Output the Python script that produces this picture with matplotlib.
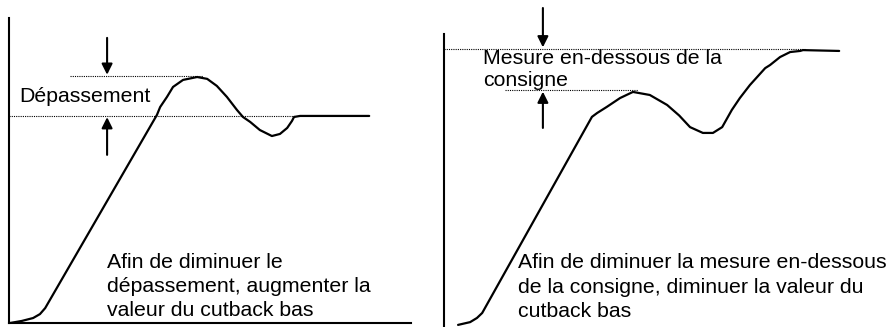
import matplotlib
matplotlib.use("Agg")
import matplotlib.pyplot as plt

plt.rcParams['font.family'] = ['Liberation Sans', 'DejaVu Sans']

# left panel: overshoot (time, measured value, setpoint = 100)
t_left = [0.25, 3.2, 6.0, 7.7, 9.0, 36.8, 37.6, 39.3, 40.8, 43.3, 46.8, 49.3, 51.7, 54.2,
          56.7, 58.2, 60.0, 62.4, 65.4, 67.4, 69.2, 70.4, 70.9, 72.4, 89.6]
pv_left = [0, 1.0, 2.4, 4.3, 7.2, 100.5, 104.3, 109.2, 114.0, 117.4, 118.8, 117.9, 114.5,
           109.2, 102.9, 99.5, 97.1, 93.2, 90.3, 91.3, 94.2, 97.6, 99.5, 100, 100]
peak_left = 119.3
setpoint = 100

# right panel: undershoot
t_right = [3.5, 6.5, 8.2, 9.5, 36.8, 38.1, 40.5, 43.8, 47.0, 51.2, 55.5, 58.5, 61.2, 64.4,
           66.9, 69.2, 71.6, 73.6, 76.1, 79.9, 81.1, 83.6, 86.1, 88.6, 89.3, 98.3]
pv_right = [0.4, 1.4, 2.9, 4.7, 75.5, 76.9, 79.1, 82.3, 84.5, 83.4, 79.8, 76.0, 71.8, 69.7,
            69.7, 71.8, 78.0, 82.3, 87.0, 93.1, 94.2, 97.1, 98.9, 99.3, 99.6, 99.3]
dip_right = 85.2

label_left = "Dépassement"
note_left = "Afin de diminuer le\ndépassement, augmenter la\nvaleur du cutback bas"
label_right = "Mesure en-dessous de la\nconsigne"
note_right = "Afin de diminuer la mesure en-dessous\nde la consigne, diminuer la valeur du\ncutback bas"

W, H = 892, 327
fig = plt.figure(figsize=(W / 100, H / 100), dpi=100)
fs = 15.3


def arrow(ax, x, y0, y1):
    ax.annotate('', xy=(x, y1), xytext=(x, y0), annotation_clip=False,
                arrowprops=dict(arrowstyle='-|>', color='black', lw=1.5,
                                mutation_scale=16, shrinkA=0, shrinkB=0))


# ---- left panel
axl = fig.add_axes([9 / W, (H - 323) / H, (411 - 9) / W, (323 - 18) / H])
axl.set_xlim(0, 100)
axl.set_ylim(0, 147.3)
axl.plot(t_left, pv_left, color='black', lw=1.6, solid_capstyle='round')
axl.plot([0, 71.1], [setpoint, setpoint], color='black', lw=0.8, ls=(0, (1, 1)))
axl.plot([15.2, 48.3], [peak_left, peak_left], color='black', lw=0.8, ls=(0, (1, 1)))
arrow(axl, 24.4, 137.7, peak_left + 0.6)
arrow(axl, 24.4, 81.2, setpoint - 0.6)
axl.text(2.5, 109.2, label_left, fontsize=fs, va='center', ha='left')
axl.text(24.4, 34.0, note_left, fontsize=fs, va='top', ha='left', linespacing=1.35)

# ---- right panel
axr = fig.add_axes([444 / W, (H - 326) / H, (W - 444) / W, (326 - 34) / H])
axr.set_xlim(0, (W - 444) / 4.02)
axr.set_ylim(0, (326 - 34) / 2.77)
axr.plot(t_right, pv_right, color='black', lw=1.6, solid_capstyle='round')
axr.plot([0, 89.8], [setpoint, setpoint], color='black', lw=0.8, ls=(0, (1, 1)))
axr.plot([15.2, 48.3], [dip_right, dip_right], color='black', lw=0.8, ls=(0, (1, 1)))
arrow(axr, 24.6, 114.8, setpoint + 0.6)
arrow(axr, 24.6, 71.5, dip_right - 0.6)
axr.text(9.7, 99.9, label_right, fontsize=fs, va='top', ha='left', linespacing=1.15)
axr.text(18.4, 26.2, note_right, fontsize=fs, va='top', ha='left', linespacing=1.35)

for ax, spines in ((axl, ('left', 'bottom')), (axr, ('left',))):
    ax.set_xticks([])
    ax.set_yticks([])
    ax.patch.set_alpha(0)
    for name, sp in ax.spines.items():
        sp.set_visible(name in spines)
        sp.set_linewidth(1.5)

fig.savefig('out.png', dpi=100)
